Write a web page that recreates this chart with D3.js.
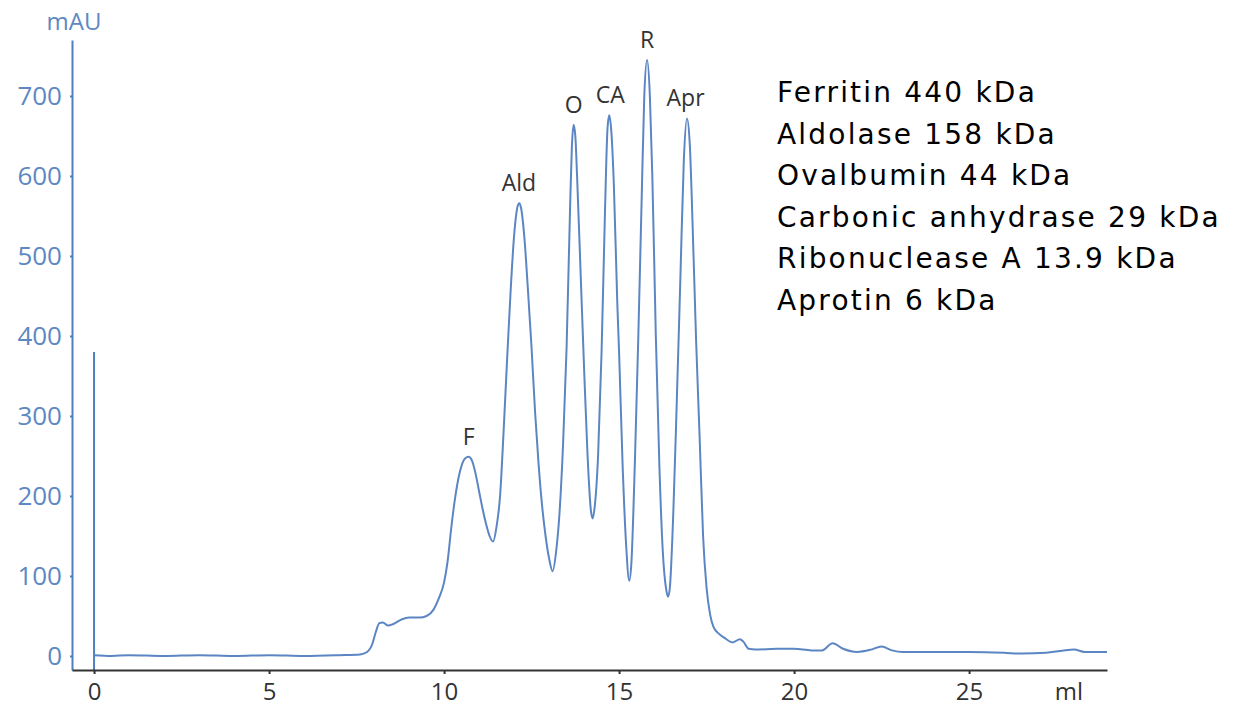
<!DOCTYPE html>
<html>
<head>
<meta charset="utf-8">
<script src="https://cdn.jsdelivr.net/npm/d3@7"></script>
<style>
  body { margin: 0; background: #fff; }
  svg { display: block; }
</style>
</head>
<body>
<svg id="chart" width="1245" height="708"></svg>
<script>
// elution volume (ml) and absorbance (mAU)
var volume = [
  0, 0.5, 1, 2, 3, 4, 5, 6, 7, 7.6, 7.8, 7.95, 8.05, 8.15, 8.25, 8.4, 8.55, 8.8, 9.0, 9.3,
  9.5, 9.7, 9.85, 10.0, 10.1, 10.2, 10.3, 10.45, 10.6, 10.7, 10.8, 10.9, 11.0, 11.1, 11.2, 11.3,
  11.4, 11.5, 11.6, 11.7, 11.8, 11.9, 12.0, 12.1, 12.15, 12.2, 12.3, 12.4, 12.5, 12.6, 12.7, 12.8,
  12.9, 13.0, 13.1, 13.2, 13.3, 13.4, 13.5, 13.6, 13.65, 13.7, 13.75, 13.8, 13.9, 14.0, 14.1, 14.2,
  14.25, 14.3, 14.4, 14.5, 14.6, 14.67, 14.72, 14.78, 14.85, 14.95, 15.0, 15.1, 15.2, 15.29,
  15.35, 15.45, 15.55, 15.65, 15.72, 15.8, 15.88, 15.95, 16.05, 16.15, 16.25, 16.35, 16.4,
  16.45, 16.55, 16.65, 16.75, 16.85, 16.94, 17.02, 17.1, 17.2, 17.3, 17.4, 17.5, 17.6, 17.7,
  17.85, 18.0, 18.25, 18.45, 18.55, 18.7, 18.9, 19.5, 20.0, 20.5, 20.8, 21.1, 21.4, 21.8, 22.2,
  22.5, 22.8, 23.1, 24, 25, 26, 26.5, 27.2, 27.7, 28.0, 28.3, 28.94
];
var absorbance = [
  1, 0, 1, 0, 1, 0, 1, 0, 1, 2, 5, 15, 30, 41, 42, 38, 40, 46, 48, 48,
  50, 58, 72, 92, 118, 158, 193, 230, 247, 249, 244, 228, 206, 184, 165, 150,
  143, 162, 200, 280, 370, 455, 525, 562, 566, 560, 520, 455, 385, 305, 240, 188,
  150, 122, 106, 130, 180, 265, 385, 560, 635, 664, 650, 600, 480, 360, 250, 180,
  172, 185, 250, 380, 560, 660, 676, 655, 590, 440, 380, 240, 140, 94,
  115, 240, 400, 580, 700, 745, 700, 600, 400, 240, 130, 82, 74,
  85, 180, 320, 470, 620, 672, 640, 540, 395, 275, 150, 85, 52, 36,
  28, 23, 17, 21, 18, 9, 8, 9, 9, 7, 7, 16, 9, 5, 8,
  12, 7, 5, 5, 5, 4, 3, 4, 7, 8, 5, 5
];

var peakNames = ['F', 'Ald', 'O', 'CA', 'R', 'Apr'];
var peakVolume = [10.7, 12.14, 13.7, 14.75, 15.8, 16.9];
var peakHeight = [249, 566, 664, 676, 745, 672];

var standards = [
  'Ferritin 440 kDa',
  'Aldolase 158 kDa',
  'Ovalbumin 44 kDa',
  'Carbonic anhydrase 29 kDa',
  'Ribonuclease A 13.9 kDa',
  'Aprotin 6 kDa'
];

var yTicks = [0, 100, 200, 300, 400, 500, 600, 700];
var xTicks = [0, 5, 10, 15, 20, 25];

var
svg = d3.select('#chart'),
blue = '#5b86c3',
axisBlue = '#4f7fc0',
x = d3.scaleLinear().domain([-0.63, 28.94]).range([72, 1107]),
y = d3.scaleLinear().domain([-17.5, 770]).range([670, 40]),
trace = volume.map(function (v, i) { return [v, absorbance[i]]; });

svg.append('rect').attr('width', 1245).attr('height', 708).attr('fill', '#fff');

// injection marker
svg.append('line')
    .attr('x1', x(0)).attr('x2', x(0))
    .attr('y1', y(380)).attr('y2', y(-17.5))
    .attr('stroke', axisBlue).attr('stroke-width', 2);

// y axis
var yAxis = svg.append('g')
    .attr('transform', 'translate(' + x.range()[0] + ',0)')
    .call(d3.axisLeft(y).tickValues(yTicks).tickSize(2).tickSizeOuter(0).tickPadding(8));
yAxis.select('.domain').attr('stroke', axisBlue).attr('stroke-width', 2);
yAxis.selectAll('.tick line').attr('stroke', axisBlue).attr('stroke-width', 2);
yAxis.selectAll('text')
    .attr('fill', '#5d88c2')
    .style('font-family', '"Open Sans", sans-serif')
    .style('font-size', '26px');

// x axis
var xAxis = svg.append('g')
    .attr('transform', 'translate(0,' + y.range()[0] + ')')
    .call(d3.axisBottom(x).tickValues(xTicks).tickSize(4).tickSizeOuter(0));
xAxis.select('.domain').attr('stroke', '#333').attr('stroke-width', 2);
xAxis.selectAll('.tick line').attr('stroke', '#333').attr('stroke-width', 2);
xAxis.selectAll('text')
    .attr('y', 30).attr('dy', 0)
    .attr('fill', '#333')
    .style('font-family', '"Open Sans", sans-serif')
    .style('font-size', '24px');

svg.append('text')
    .attr('x', 74).attr('y', 30)
    .attr('text-anchor', 'middle')
    .attr('fill', '#5d88c2')
    .style('font-family', '"Open Sans", sans-serif')
    .style('font-size', '24px')
    .text('mAU');

svg.append('text')
    .attr('x', 1069).attr('y', 700)
    .attr('text-anchor', 'middle')
    .attr('fill', '#333')
    .style('font-family', '"Open Sans", sans-serif')
    .style('font-size', '24px')
    .text('ml');

// chromatogram
svg.append('path')
    .datum(trace)
    .attr('fill', 'none')
    .attr('stroke', blue)
    .attr('stroke-width', 2)
    .attr('d', d3.line()
        .x(function (d) { return x(d[0]); })
        .y(function (d) { return y(d[1]); })
        .curve(d3.curveMonotoneX));

// peak labels
svg.append('g').selectAll('text')
    .data(peakNames)
    .enter().append('text')
    .attr('x', function (d, i) { return x(peakVolume[i]); })
    .attr('y', function (d, i) { return y(peakHeight[i]) - 12; })
    .attr('text-anchor', 'middle')
    .attr('fill', '#333')
    .style('font-family', '"Open Sans", sans-serif')
    .style('font-size', '23px')
    .text(function (d) { return d; });

// standards list
svg.append('g').selectAll('text')
    .data(standards)
    .enter().append('text')
    .attr('x', 777)
    .attr('y', function (d, i) { return 102 + i * 41.6; })
    .attr('fill', '#000')
    .style('font-family', '"Comic Sans MS", "DejaVu Sans", sans-serif')
    .style('font-size', '28px')
    .style('letter-spacing', '2.2px')
    .text(function (d) { return d; });
</script>
</body>
</html>
